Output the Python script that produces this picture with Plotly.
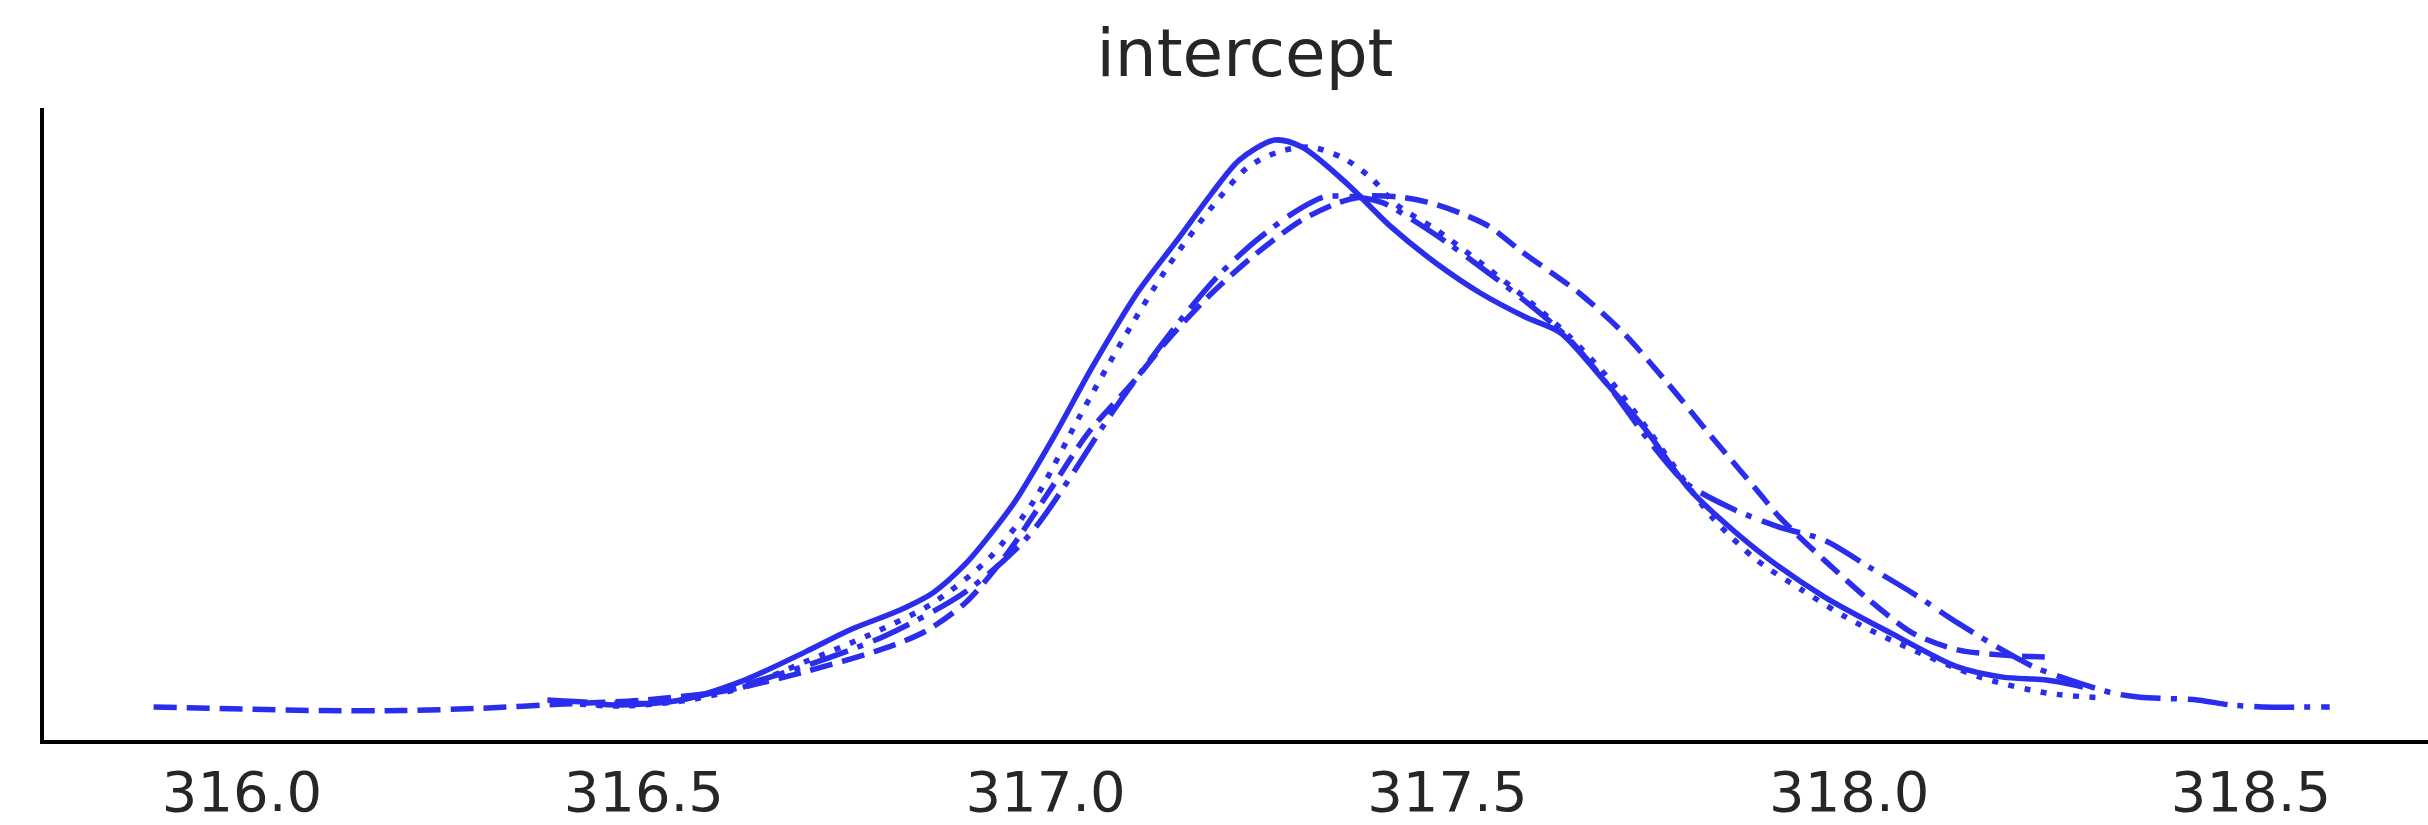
import plotly.graph_objects as go

title_text = "intercept"
tick_values = [316.0, 316.5, 317.0, 317.5, 318.0, 318.5]
tick_labels = ["316.0", "316.5", "317.0", "317.5", "318.0", "318.5"]

# chain 1 (solid)
solid_x = [316.44, 316.47, 316.546, 316.623, 316.701, 316.759, 316.816, 316.86, 316.90,
           316.93, 316.963, 317.013, 317.058, 317.114, 317.164, 317.207, 317.241, 317.285,
           317.319, 317.374, 317.430, 317.486, 317.541, 317.597, 317.641, 317.691, 317.747,
           317.802, 317.885, 317.969, 318.052, 318.135, 318.191, 318.246, 318.291]
solid_y = [0.017, 0.015, 0.027, 0.074, 0.145, 0.201, 0.245, 0.290, 0.360,
           0.430, 0.517, 0.682, 0.843, 1.025, 1.155, 1.270, 1.351, 1.400,
           1.383, 1.295, 1.187, 1.098, 1.025, 0.966, 0.927, 0.819, 0.689,
           0.542, 0.395, 0.280, 0.191, 0.108, 0.083, 0.076, 0.059]

# chain 2 (dashed)
dashed_x = [315.89, 316.00, 316.10, 316.20, 316.30, 316.40, 316.50, 316.60, 316.70, 316.80,
            316.85, 316.90, 316.95, 317.008, 317.053, 317.108, 317.152, 317.207, 317.263,
            317.319, 317.364, 317.40, 317.441, 317.475, 317.516, 317.553, 317.590, 317.664,
            317.719, 317.774, 317.829, 317.885, 317.913, 317.969, 318.025, 318.079, 318.135,
            318.191, 318.252]
dashed_y = [0.010, 0.005, 0.001, 0.001, 0.007, 0.017, 0.027, 0.049, 0.096, 0.154,
            0.195, 0.265, 0.380, 0.549, 0.682, 0.804, 0.910, 1.025, 1.123,
            1.204, 1.246, 1.263, 1.260, 1.248, 1.221, 1.187, 1.130, 1.025,
            0.927, 0.804, 0.672, 0.542, 0.476, 0.370, 0.272, 0.191, 0.150,
            0.137, 0.132]

# chain 3 (dotted)
dotted_x = [316.40, 316.47, 316.55, 316.62, 316.70, 316.78, 316.86, 316.93, 316.986,
            317.042, 317.096, 317.152, 317.207, 317.252, 317.290, 317.329, 317.370, 317.404,
            317.437, 317.487, 317.55, 317.60, 317.65, 317.70, 317.75, 317.829, 317.885,
            317.941, 317.996, 318.052, 318.163, 318.246, 318.316]
dotted_y = [0.020, 0.012, 0.025, 0.056, 0.120, 0.186, 0.265, 0.375, 0.517,
            0.721, 0.910, 1.089, 1.236, 1.334, 1.371, 1.383, 1.356, 1.309,
            1.241, 1.179, 1.086, 1.008, 0.922, 0.817, 0.689, 0.476, 0.370,
            0.297, 0.230, 0.174, 0.083, 0.044, 0.032]

# chain 4 (dash-dot)
dashdot_x = [316.38, 316.45, 316.52, 316.60, 316.70, 316.80, 316.90, 316.98, 317.085,
             317.130, 317.175, 317.218, 317.263, 317.308, 317.346, 317.388, 317.420, 317.457,
             317.50, 317.55, 317.60, 317.65, 317.70, 317.75, 317.797, 317.858, 317.913,
             317.969, 318.025, 318.079, 318.135, 318.191, 318.230, 318.275, 318.328, 318.362,
             318.433, 318.474, 318.515, 318.598]
dashdot_y = [0.027, 0.020, 0.020, 0.051, 0.110, 0.184, 0.292, 0.432, 0.738,
             0.861, 0.976, 1.074, 1.155, 1.221, 1.260, 1.260, 1.246, 1.204,
             1.148, 1.076, 1.000, 0.915, 0.799, 0.665, 0.559, 0.493, 0.451,
             0.419, 0.353, 0.289, 0.216, 0.149, 0.108, 0.076, 0.044, 0.034,
             0.027, 0.015, 0.010, 0.010]

color = "#2a2eec"
lw = 5.5
fig = go.Figure()
for xs, ys, dash in [
    (solid_x, solid_y, "solid"),
    (dashed_x, dashed_y, "23px,10px"),
    (dotted_x, dotted_y, "6px,10.5px"),
    (dashdot_x, dashdot_y, "40px,10px,6px,11px"),
]:
    fig.add_trace(go.Scatter(x=xs, y=ys, mode="lines",
                             line=dict(color=color, width=lw, dash=dash, shape="spline", smoothing=0.8),
                             showlegend=False, hoverinfo="skip"))

fig.update_layout(
    width=2428, height=825,
    margin=dict(l=44, r=0, t=108, b=85),
    paper_bgcolor="white", plot_bgcolor="white",
    font=dict(family="DejaVu Sans", color="#262626"),
    title=dict(text=title_text, font=dict(size=66, family="DejaVu Sans", color="#262626"),
               x=1245 / 2428, xanchor="center", xref="container",
               y=1 - 53 / 825, yanchor="middle", yref="container"),
    showlegend=False,
)
fig.update_xaxes(range=[315.7536, 318.7203], tickvals=tick_values, ticktext=tick_labels,
                 showgrid=False, zeroline=False, showline=True, linecolor="black", linewidth=4,
                 ticks="", tickfont=dict(size=56, family="DejaVu Sans", color="#262626"))
fig.update_yaxes(range=[-0.0711, 1.4786], showticklabels=False, showgrid=False, zeroline=False,
                 showline=True, linecolor="black", linewidth=4, ticks="")

fig.write_html("out.html")
